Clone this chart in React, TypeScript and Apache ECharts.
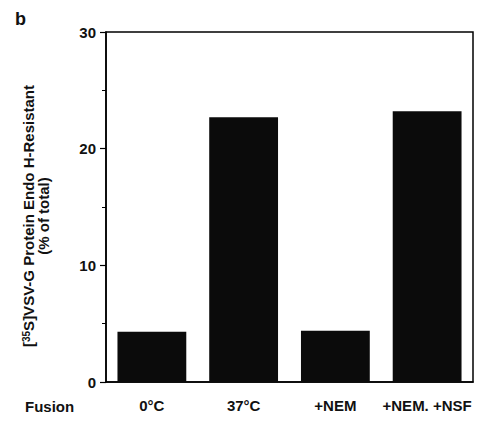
import React, { useEffect, useRef } from "react";
import * as echarts from "echarts";

const categories = ["0°C", "37°C", "+NEM", "+NEM. +NSF"];
const values = [4.3, 22.7, 4.4, 23.2];
const yTicks = [0, 10, 20, 30];

export default function App() {
  const ref = useRef<HTMLDivElement>(null);
  useEffect(() => {
    if (!ref.current) return;
    const chart = echarts.init(ref.current, null, { renderer: "svg" });
    const font = "'Liberation Sans', Arial, sans-serif";
    chart.setOption({
      animation: false,
      backgroundColor: "#fff",
      textStyle: { fontFamily: font },
      grid: {
        left: 106,
        right: 15,
        top: 32,
        bottom: 43,
        show: true,
        borderColor: "#000",
        borderWidth: 1.5,
        backgroundColor: "transparent",
      },
      xAxis: {
        type: "category",
        data: categories,
        axisLine: { lineStyle: { color: "#000", width: 1.5 } },
        axisTick: { show: false },
        axisLabel: {
          color: "#111",
          fontSize: 15,
          fontWeight: "bold",
          fontFamily: font,
          margin: 16,
          interval: 0,
        },
      },
      yAxis: {
        type: "value",
        min: yTicks[0],
        max: yTicks[yTicks.length - 1],
        interval: 10,
        splitLine: { show: false },
        axisLine: { show: true, lineStyle: { color: "#000", width: 1.5 } },
        axisTick: { show: true, length: 6, lineStyle: { color: "#000", width: 1.2 } },
        minorTick: { show: true, splitNumber: 2, length: 4, lineStyle: { color: "#000", width: 1 } },
        axisLabel: {
          color: "#111",
          fontSize: 15,
          fontWeight: "bold",
          fontFamily: font,
          margin: 10,
        },
        name: "{a|[}{sup|35}{a|S]VSV-G Protein Endo H-Resistant}\n{a|(% of total)}",
        nameLocation: "middle",
        nameRotate: 90,
        nameGap: 55,
        nameTextStyle: {
          padding: [0, 18, 0, 0],
          rich: {
            a: { fontSize: 15, fontWeight: "bold", color: "#111", fontFamily: font, lineHeight: 15 },
            sup: { fontSize: 10, fontWeight: "bold", color: "#111", fontFamily: font, verticalAlign: "top", lineHeight: 15 },
          },
        },
      },
      series: [
        {
          type: "bar",
          data: values,
          barCategoryGap: "25%",
          itemStyle: { color: "#0b0b0b" },
        },
      ],
      graphic: [
        {
          type: "text",
          left: 15,
          top: 10,
          style: { text: "b", fontSize: 18, fontWeight: "bold", fill: "#111", fontFamily: font },
        },
        {
          type: "text",
          left: 25,
          top: 399,
          style: { text: "Fusion", fontSize: 15, fontWeight: "bold", fill: "#111", fontFamily: font },
        },
      ],
    });
    return () => chart.dispose();
  }, []);
  return <div ref={ref} style={{ width: 488, height: 425, position: "absolute", left: 0, top: 0 }} />;
}
